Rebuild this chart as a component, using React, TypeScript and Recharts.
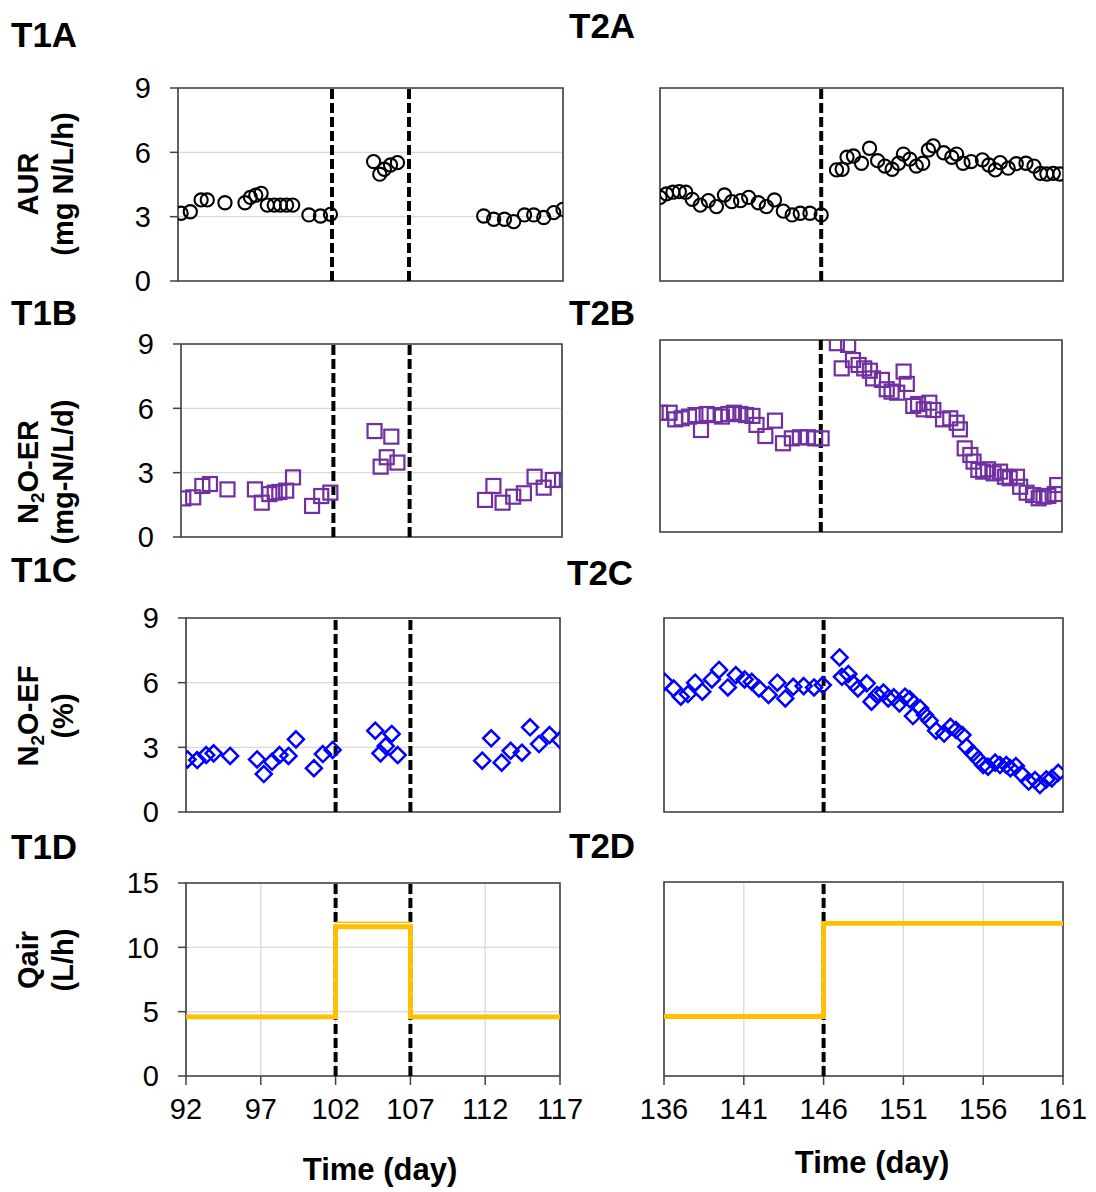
import React from 'react';
import {
  ComposedChart,
  Scatter,
  Line,
  XAxis,
  YAxis,
  CartesianGrid,
  ReferenceLine,
  ReferenceArea,
} from 'recharts';

const FONT = "'Liberation Sans', Arial, sans-serif";

// ---------- axis ticks ----------
const t1Ticks = [92, 97, 102, 107, 112, 117];
const t2Ticks = [136, 141, 146, 151, 156, 161];
const rateTicks = [0, 3, 6, 9];
const qairTicks = [0, 5, 10, 15];
const t1Switch = [102, 107];
const t2Switch = [146];

// ---------- T1A / T2A : AUR (mg N/L/h) ----------
const t1aDays = [92.2, 92.8, 93.5, 93.9, 95.05, 96.35, 96.7, 97.05, 97.4, 97.8, 98.25, 98.65, 99.05, 99.45, 100.5, 101.25, 101.9,
  104.7, 105.1, 105.4, 105.8, 106.25,
  111.85, 112.5, 113.2, 113.8, 114.5, 115.1, 115.75, 116.4, 117.0];
const t1aAUR = [3.16, 3.23, 3.78, 3.78, 3.65, 3.65, 3.9, 4.0, 4.09, 3.54, 3.54, 3.54, 3.54, 3.54, 3.08, 3.03, 3.11,
  5.57, 4.98, 5.21, 5.41, 5.52,
  3.03, 2.88, 2.88, 2.77, 3.08, 3.08, 2.96, 3.19, 3.34];

const t2aDays = [136.0, 136.4, 136.8, 137.2, 137.6, 138.0, 138.5, 139.0, 139.5, 140.0, 140.45, 141.0, 141.5, 142.1, 142.6, 143.1, 143.65, 144.2, 144.7, 145.3, 146.0,
  146.95, 147.3, 147.6, 148.0, 148.5, 149.0, 149.5, 149.95, 150.4, 150.8, 151.1, 151.5, 151.9, 152.3, 152.65, 152.95, 153.6, 154.1, 154.4, 154.8, 155.3, 156.0, 156.4, 156.8, 157.1, 157.6, 158.1, 158.7, 159.2, 159.6, 160.0, 160.4, 160.8];
const t2aAUR = [3.9, 4.06, 4.14, 4.17, 4.14, 3.81, 3.54, 3.75, 3.47, 4.01, 3.7, 3.75, 3.9, 3.65, 3.47, 3.78, 3.26, 3.08, 3.16, 3.16, 3.08,
  5.18, 5.21, 5.77, 5.83, 5.49, 6.19, 5.61, 5.36, 5.21, 5.49, 5.92, 5.68, 5.36, 5.49, 6.11, 6.3, 5.98, 5.77, 5.92, 5.49, 5.57, 5.65, 5.41, 5.18, 5.52, 5.26, 5.47, 5.49, 5.36, 5.02, 4.99, 5.02, 4.99];

// ---------- T1B / T2B : N2O-ER (mg-N/L/d) ----------
const t1bDays = [92.15, 92.8, 93.4, 93.9, 95.05, 96.85, 97.3, 97.8, 98.15, 98.45, 98.9, 99.35, 100.6, 101.2, 101.8,
  104.7, 105.8, 105.1, 105.5, 106.2,
  111.95, 112.5, 113.1, 113.8, 114.5, 115.2, 115.8, 116.4, 117.0];
const t1bER = [1.8, 1.85, 2.38, 2.47, 2.22, 2.22, 1.6, 2.0, 2.07, 2.1, 2.16, 2.78, 1.45, 1.91, 2.07,
  4.94, 4.68, 3.28, 3.72, 3.47,
  1.73, 2.38, 1.6, 1.88, 2.04, 2.81, 2.3, 2.66, 2.66];

const t2bDays = [136.0, 136.6, 136.95, 137.35, 137.8, 138.2, 138.55, 138.9, 139.4, 139.85, 140.25, 140.6, 141.0, 141.35, 141.75, 142.0, 142.55, 143.15, 143.65, 144.2, 144.7, 145.2, 145.65, 146.05,
  147.0, 147.7, 147.3, 148.0, 148.35, 148.7, 149.05, 149.25, 149.8, 150.1, 150.4, 150.75, 151.15, 151.35, 151.75, 152.05, 152.4, 152.75, 153.0, 153.6,
  154.05, 154.45, 154.65, 154.95, 155.3, 155.5, 155.8, 156.1, 156.4, 156.75, 157.15, 157.45, 157.75, 158.2, 158.4, 158.8, 159.2, 159.55, 159.85, 160.15, 160.55, 160.7];
const t2bER = [5.59, 5.59, 5.28, 5.33, 5.41, 5.48, 4.78, 5.53, 5.48, 5.41, 5.53, 5.59, 5.53, 5.48, 5.44, 5.02, 4.5, 5.22, 4.16, 4.39, 4.44, 4.44, 4.39, 4.39,
  8.85, 8.77, 7.67, 8.06, 7.83, 7.67, 7.56, 7.2, 7.13, 6.69, 6.58, 6.53, 7.52, 6.94, 5.91, 6.0, 5.75, 6.06, 5.72, 5.28,
  5.33, 5.12, 4.81, 3.92, 3.61, 3.3, 2.91, 2.83, 2.94, 2.75, 2.83, 2.59, 2.52, 2.59, 2.12, 1.84, 1.73, 1.58, 1.66, 1.69, 1.78, 2.2];

// ---------- T1C / T2C : N2O-EF (%) ----------
const t1cDays = [92.1, 92.75, 93.35, 93.85, 94.95, 96.75, 97.2, 97.75, 98.25, 98.85, 99.35, 100.55, 101.15, 101.8,
  104.65, 105.75, 105.0, 105.35, 106.15,
  111.8, 112.4, 113.1, 113.7, 114.45, 115.0, 115.6, 116.3, 117.0];
const t1cEF = [2.44, 2.41, 2.64, 2.72, 2.6, 2.44, 1.76, 2.33, 2.64, 2.6, 3.37, 2.03, 2.69, 2.88,
  3.77, 3.62, 2.72, 3.06, 2.64,
  2.38, 3.42, 2.29, 2.84, 2.75, 3.93, 3.15, 3.57, 3.34];

const t2cDays = [136.05, 136.6, 137.05, 137.5, 137.95, 138.4, 139.0, 139.45, 140.0, 140.5, 141.05, 141.5, 141.95, 142.55, 143.1, 143.6, 144.1, 144.75, 145.4, 145.95,
  147.0, 147.15, 147.55, 147.85, 148.15, 148.7, 149.0, 149.35, 149.75, 150.05, 150.4, 150.75, 151.1, 151.4, 151.6, 152.05, 152.35, 152.65, 153.05, 153.55,
  153.95, 154.3, 154.7, 154.95, 155.35, 155.7, 156.0, 156.3, 156.75, 157.05, 157.45, 157.7, 158.05, 158.4, 158.85, 159.25, 159.55, 159.95, 160.3, 160.7];
const t2cEF = [6.04, 5.73, 5.35, 5.47, 6.0, 5.58, 6.15, 6.59, 5.78, 6.35, 6.15, 6.04, 5.73, 5.43, 6.0, 5.27, 5.81, 5.84, 5.78, 5.89,
  7.17, 6.27, 6.4, 5.97, 5.73, 5.97, 5.12, 5.43, 5.54, 5.27, 5.32, 5.04, 5.35, 5.23, 4.45, 4.81, 4.5, 4.23, 3.77, 3.64,
  3.95, 3.8, 3.57, 3.03, 2.72, 2.44, 2.18, 2.1, 2.29, 2.18, 2.18, 2.03, 2.13, 1.76, 1.41, 1.48, 1.25, 1.51, 1.56, 1.82];

// ---------- T1D / T2D : Qair (L/h) ----------
const t1QairDays = [92, 102, 107, 117];
const t1Qair = [4.6, 11.6, 4.6, 4.6];
const t1QairEdgeDays = [102, 107];
const t1QairEdge = [11.95, 11.95];
const t2QairDays = [136, 146, 161];
const t2Qair = [4.6, 11.8, 11.8];

const zip = (xs: number[], ys: number[]) => xs.map((x, i) => ({ x, y: ys[i] }));

// ---------- markers ----------
const CircleMark = (p: any) => (
  <circle cx={p.cx} cy={p.cy} r={6.6} fill="none" stroke="#000000" strokeWidth={2.1} />
);
const SquareMark = (p: any) => (
  <rect x={p.cx - 7} y={p.cy - 7} width={14} height={14} fill="none" stroke="#7030A0" strokeWidth={2.2} />
);
const DiamondMark = (p: any) => (
  <path
    d={`M${p.cx},${p.cy - 8}L${p.cx + 8},${p.cy}L${p.cx},${p.cy + 8}L${p.cx - 8},${p.cy}Z`}
    fill="none"
    stroke="#0000FF"
    strokeWidth={2.5}
  />
);

type PlotRect = { x: number; y: number; w: number; h: number };

function Panel(props: {
  plot: PlotRect;
  leftCol: boolean;
  bottomRow: boolean;
  xTicks: number[];
  yTicks: number[];
  dashes: number[];
  children?: React.ReactNode;
}) {
  const { plot, leftCol, bottomRow, xTicks, yTicks, dashes, children } = props;
  const L = 90;
  const T = 22;
  const R = 40;
  const B = bottomRow ? 80 : 22;
  const xMin = xTicks[0];
  const xMax = xTicks[xTicks.length - 1];
  const yMin = yTicks[0];
  const yMax = yTicks[yTicks.length - 1];
  const tickText = { fill: '#000000', fontSize: 29, fontFamily: FONT };
  return (
    <div style={{ position: 'absolute', left: plot.x - L, top: plot.y - T }}>
      <ComposedChart
        width={plot.w + L + R}
        height={plot.h + T + B}
        margin={{ top: T, right: R, bottom: 0, left: 0 }}
        style={{ overflow: 'visible' }}
      >
        <CartesianGrid stroke="#D9D9D9" strokeWidth={1.3} />
        <XAxis
          type="number"
          dataKey="x"
          domain={[xMin, xMax]}
          ticks={xTicks}
          interval={0}
          allowDataOverflow
          height={B}
          axisLine={false}
          tick={bottomRow ? tickText : false}
          tickLine={bottomRow ? { stroke: '#404040', strokeWidth: 1.5 } : false}
          tickSize={9}
          tickMargin={13}
        />
        <YAxis
          type="number"
          dataKey="y"
          domain={[yMin, yMax]}
          ticks={yTicks}
          interval={0}
          allowDataOverflow
          width={L}
          axisLine={false}
          tick={leftCol ? tickText : false}
          tickLine={leftCol ? { stroke: '#404040', strokeWidth: 1.5 } : false}
          tickSize={8}
          tickMargin={19}
        />
        {dashes.map((d) => (
          <ReferenceLine key={d} x={d} stroke="#000000" strokeWidth={4} strokeDasharray="10 4" />
        ))}
        {children}
        <ReferenceArea
          x1={xMin}
          x2={xMax}
          y1={yMin}
          y2={yMax}
          fill="none"
          fillOpacity={0}
          stroke="#404040"
          strokeWidth={1.6}
          strokeOpacity={1}
        />
      </ComposedChart>
    </div>
  );
}

function YTitle(props: { cy: number; line1: React.ReactNode; line2: string }) {
  const { cy, line1, line2 } = props;
  const style = { fontFamily: FONT, fontWeight: 700, fontSize: 29, fill: '#000000' } as any;
  return (
    <g>
      <text transform={`translate(38,${cy}) rotate(-90)`} textAnchor="middle" style={style}>
        {line1}
      </text>
      <text transform={`translate(73,${cy}) rotate(-90)`} textAnchor="middle" style={style}>
        {line2}
      </text>
    </g>
  );
}

function Overlay() {
  const lab = { fontFamily: FONT, fontWeight: 700, fontSize: 35, fill: '#000000' } as any;
  const tt = { fontFamily: FONT, fontWeight: 700, fontSize: 31, fill: '#000000' } as any;
  return (
    <svg
      width={1096}
      height={1192}
      style={{ position: 'absolute', left: 0, top: 0, pointerEvents: 'none' }}
    >
      <text x={11} y={47} style={lab}>T1A</text>
      <text x={569} y={38} style={lab}>T2A</text>
      <text x={11} y={325} style={lab}>T1B</text>
      <text x={569} y={325} style={lab}>T2B</text>
      <text x={11} y={582} style={lab}>T1C</text>
      <text x={567} y={585} style={lab}>T2C</text>
      <text x={11} y={859} style={lab}>T1D</text>
      <text x={569} y={858} style={lab}>T2D</text>

      <YTitle cy={184} line1="AUR" line2="(mg N/L/h)" />
      <YTitle
        cy={472}
        line1={
          <>
            <tspan>N</tspan>
            <tspan fontSize={19} dy={6}>2</tspan>
            <tspan dy={-6}>O-ER</tspan>
          </>
        }
        line2="(mg-N/L/d)"
      />
      <YTitle
        cy={716}
        line1={
          <>
            <tspan>N</tspan>
            <tspan fontSize={19} dy={6}>2</tspan>
            <tspan dy={-6}>O-EF</tspan>
          </>
        }
        line2="(%)"
      />
      <YTitle cy={960} line1="Qair" line2="(L/h)" />

      <text x={380} y={1180} textAnchor="middle" style={tt}>Time (day)</text>
      <text x={872} y={1173} textAnchor="middle" style={tt}>Time (day)</text>
    </svg>
  );
}

export default function App() {
  const gold = '#FFC000';
  return (
    <div style={{ position: 'absolute', left: 0, top: 0, width: 1096, height: 1192, background: '#ffffff', overflow: 'hidden' }}>
      {/* Row A */}
      <Panel plot={{ x: 178, y: 88, w: 385, h: 193 }} leftCol bottomRow={false} xTicks={t1Ticks} yTicks={rateTicks} dashes={t1Switch}>
        <Scatter data={zip(t1aDays, t1aAUR)} dataKey="y" shape={CircleMark} isAnimationActive={false} />
      </Panel>
      <Panel plot={{ x: 660, y: 88, w: 403, h: 193 }} leftCol={false} bottomRow={false} xTicks={t2Ticks} yTicks={rateTicks} dashes={t2Switch}>
        <Scatter data={zip(t2aDays, t2aAUR)} dataKey="y" shape={CircleMark} isAnimationActive={false} />
      </Panel>

      {/* Row B */}
      <Panel plot={{ x: 181, y: 344, w: 381, h: 193 }} leftCol bottomRow={false} xTicks={t1Ticks} yTicks={rateTicks} dashes={t1Switch}>
        <Scatter data={zip(t1bDays, t1bER)} dataKey="y" shape={SquareMark} isAnimationActive={false} />
      </Panel>
      <Panel plot={{ x: 660, y: 340, w: 402, h: 192 }} leftCol={false} bottomRow={false} xTicks={t2Ticks} yTicks={rateTicks} dashes={t2Switch}>
        <Scatter data={zip(t2bDays, t2bER)} dataKey="y" shape={SquareMark} isAnimationActive={false} />
      </Panel>

      {/* Row C */}
      <Panel plot={{ x: 186, y: 618, w: 374, h: 194 }} leftCol bottomRow={false} xTicks={t1Ticks} yTicks={rateTicks} dashes={t1Switch}>
        <Scatter data={zip(t1cDays, t1cEF)} dataKey="y" shape={DiamondMark} isAnimationActive={false} />
      </Panel>
      <Panel plot={{ x: 664, y: 618, w: 399, h: 194 }} leftCol={false} bottomRow={false} xTicks={t2Ticks} yTicks={rateTicks} dashes={t2Switch}>
        <Scatter data={zip(t2cDays, t2cEF)} dataKey="y" shape={DiamondMark} isAnimationActive={false} />
      </Panel>

      {/* Row D */}
      <Panel plot={{ x: 186, y: 883, w: 374, h: 193 }} leftCol bottomRow xTicks={t1Ticks} yTicks={qairTicks} dashes={t1Switch}>
        <Line data={zip(t1QairDays, t1Qair)} dataKey="y" type="stepAfter" stroke={gold} strokeWidth={4.8} dot={false} isAnimationActive={false} />
        <Line data={zip(t1QairEdgeDays, t1QairEdge)} dataKey="y" type="linear" stroke={gold} strokeWidth={1.3} dot={false} isAnimationActive={false} />
      </Panel>
      <Panel plot={{ x: 664, y: 882, w: 399, h: 194 }} leftCol={false} bottomRow xTicks={t2Ticks} yTicks={qairTicks} dashes={t2Switch}>
        <Line data={zip(t2QairDays, t2Qair)} dataKey="y" type="stepAfter" stroke={gold} strokeWidth={4.8} dot={false} isAnimationActive={false} />
      </Panel>

      <Overlay />
    </div>
  );
}
